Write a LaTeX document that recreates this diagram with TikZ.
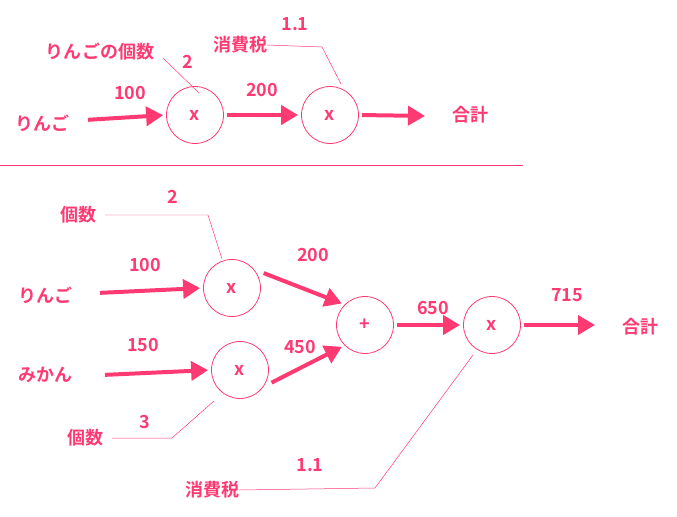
\documentclass[tikz,border=0pt]{standalone}
\usepackage{fontspec}
\setmainfont{Noto Sans CJK JP Bold}
\usetikzlibrary{arrows.meta}
\definecolor{pk}{HTML}{FF3A73}
\begin{document}
\begin{tikzpicture}[x=1bp,y=-1bp,
  lbl/.style={text=pk,font=\fontsize{18bp}{20bp}\selectfont,inner sep=0pt},
  op/.style={circle,draw=pk,line width=0.8pt,minimum size=57bp,inner sep=0pt,text=pk,font=\fontsize{18bp}{20bp}\selectfont},
  big/.style={pk,line width=4pt,-{Triangle[length=17bp,width=19bp]},shorten >=3bp,shorten <=3bp},
  thin/.style={pk,line width=0.5pt}]
\useasboundingbox (0,0) rectangle (677,517);
% top
\node[op] (t1) at (195,115) {x};
\node[op] (t2) at (330,115) {x};
\node[lbl] (ta) at (42,123) {りんご};
\node[lbl] (tsum) at (470,115) {合計};
\node[lbl] at (130,93) {100};
\node[lbl] at (262,90) {200};
\node[lbl] (tk) at (100,52) {りんごの個数};
\node[lbl] at (188,62) {2};
\node[lbl] (ttax) at (240,45) {消費税};
\node[lbl] at (295,24) {1.1};
\coordinate (ta1) at (85,120);
\coordinate (tz) at (428,116);
\draw[big] (ta1) -- (t1.west);
\draw[big] (t1.east) -- (t2.west);
\draw[big] (t2.east) -- (tz);
\draw[thin] (163,58) -- (199,93);
\draw[thin] (ttax.east) -- (322,47) -- (341,84);
\draw[thin] (0,165) -- (523,165);
% bottom
\node[op] (b1) at (232,288) {x};
\node[op] (b2) at (240,370) {x};
\node[op] (b3) at (365,325) {+};
\node[op] (b4) at (492,325) {x};
\node[lbl] (k1) at (78,215) {個数};
\node[lbl] at (173,197) {2};
\node[lbl] (ap) at (45,295) {りんご};
\node[lbl] at (145,265) {100};
\node[lbl] (mk) at (45,375) {みかん};
\node[lbl] at (143,345) {150};
\node[lbl] (k2) at (85,438) {個数};
\node[lbl] at (145,422) {3};
\node[lbl] at (313,255) {200};
\node[lbl] at (300,347) {450};
\node[lbl] at (433,308) {650};
\node[lbl] at (567,295) {715};
\node[lbl] (bsum) at (640,327) {合計};
\node[lbl] (btax) at (212,490) {消費税};
\node[lbl] at (310,465) {1.1};
\coordinate (ap1) at (97,293);
\coordinate (mk1) at (102,375);
\coordinate (bz) at (598,325);
\draw[big] (ap1) -- (b1.west);
\draw[big] (mk1) -- (b2.west);
\draw[big] (b1.east) ++(0,-16) -- (b3.north west);
\draw[big] (b2.east) ++(0,14) -- (b3.south west);
\draw[big] (b3.east) -- (b4.west);
\draw[big] (b4.east) -- (bz);
\draw[thin] (105,215) -- (208,215) -- (222,259);
\draw[thin] (112,438) -- (172,438) -- (214,401);
\draw[thin] (btax.east) -- (375,488) -- (473,355);
\end{tikzpicture}
\end{document}
